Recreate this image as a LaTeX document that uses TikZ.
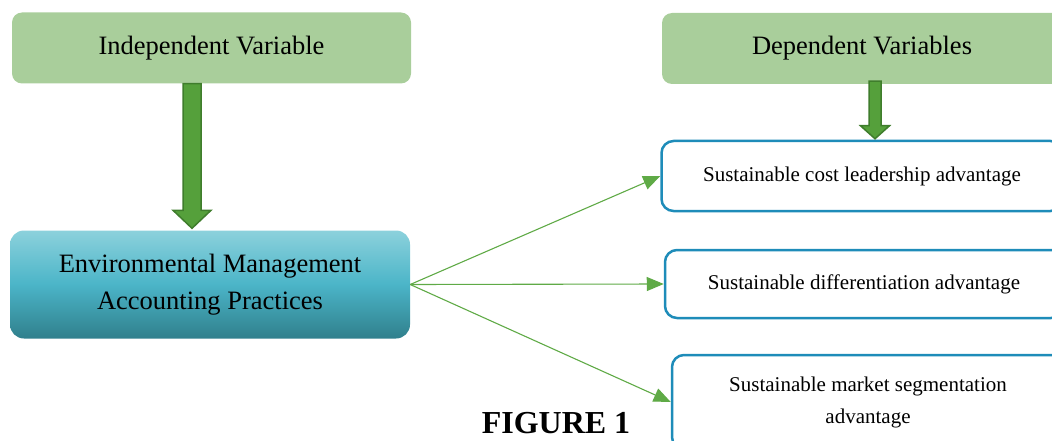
\documentclass[tikz,border=0pt]{standalone}
\usepackage{fontspec}
\setmainfont{Liberation Serif}
\usetikzlibrary{arrows.meta,positioning,calc}
\definecolor{headgreen}{RGB}{169,206,155}
\definecolor{arrowgreen}{RGB}{85,160,59}
\definecolor{arrowedge}{RGB}{63,125,44}
\definecolor{linkgreen}{RGB}{95,170,70}
\definecolor{boxblue}{RGB}{30,140,185}
\definecolor{tealtop}{RGB}{140,209,220}
\definecolor{tealmid}{RGB}{75,181,200}
\definecolor{tealbot}{RGB}{48,127,140}

\begin{document}
\begin{tikzpicture}[
  x=1pt, y=-1pt,
  headbox/.style={fill=headgreen, rounded corners=10pt, inner sep=0pt,
    minimum width=399pt, minimum height=71pt, align=center,
    font=\fontsize{26.5}{32}\selectfont},
  mainbox/.style={rounded corners=14pt, inner sep=0pt, align=center,
    top color=tealtop, bottom color=tealbot, middle color=tealmid,
    minimum width=400pt, minimum height=108pt,
    font=\fontsize{26.5}{37}\selectfont},
  outbox/.style={draw=boxblue, line width=2.5pt, fill=white,
    rounded corners=12pt, inner sep=0pt, align=center,
    font=\fontsize{21}{32}\selectfont},
  bigarrow/.style={fill=arrowgreen, draw=arrowedge, line width=1.5pt,
    line join=miter},
  link/.style={draw=linkgreen, line width=1.1pt,
    -{Triangle[length=17pt,width=14pt]}}
]
\useasboundingbox (0,0) rectangle (1052,441);
\clip (0,0) rectangle (1052,441);

% Nodes
\node[headbox] (indep) at (211.5,48) {Independent Variable};
\node[headbox, minimum width=400pt] (dep) at (862,48.5) {Dependent Variables};
\node[mainbox] (emap) at (210,284.5)
  {Environmental Management\\Accounting Practices};
\node[outbox, minimum width=401pt, minimum height=70pt] (cost) at (862,176)
  {\raisebox{3pt}{Sustainable cost leadership advantage}};
\node[outbox, minimum width=398pt, minimum height=68pt] (diff) at (864,284)
  {\raisebox{2pt}{Sustainable differentiation advantage}};
\node[outbox, minimum width=392pt, minimum height=94pt] (seg) at (868,402)
  {Sustainable market segmentation\\advantage};
\node[font=\bfseries\fontsize{32}{38}\selectfont, anchor=base, inner sep=0pt]
  (fig) at (556,433) {FIGURE 1};

% Block arrows
\coordinate (ivx) at ([xshift=-19.5pt]indep.south);
\draw[bigarrow] ($(ivx)+(-9,0)$) -- ($(ivx |- emap.north)+(-9,-20)$) -- ++(-10,0)
  -- ($(ivx |- emap.north)+(0,-2)$) -- ($(ivx |- emap.north)+(19,-20)$) -- ++(-10,0)
  -- ($(ivx)+(9,0)$) -- cycle;
\coordinate (dvx) at ([xshift=13pt]dep.south);
\draw[bigarrow] ($(dvx)+(-6,-3)$) -- ($(dvx |- cost.north)+(-6,-14)$) -- ++(-8.5,0)
  -- ($(dvx |- cost.north)+(0,-1)$) -- ($(dvx |- cost.north)+(14.5,-14)$) -- ++(-8.5,0)
  -- ($(dvx)+(6,-3)$) -- cycle;

% Links
\draw[link] (emap.east) -- (cost.west);
\draw[link] (emap.east) -- (diff.west);
\draw[link] (emap.east) -- (seg.west);

\end{tikzpicture}
\end{document}
